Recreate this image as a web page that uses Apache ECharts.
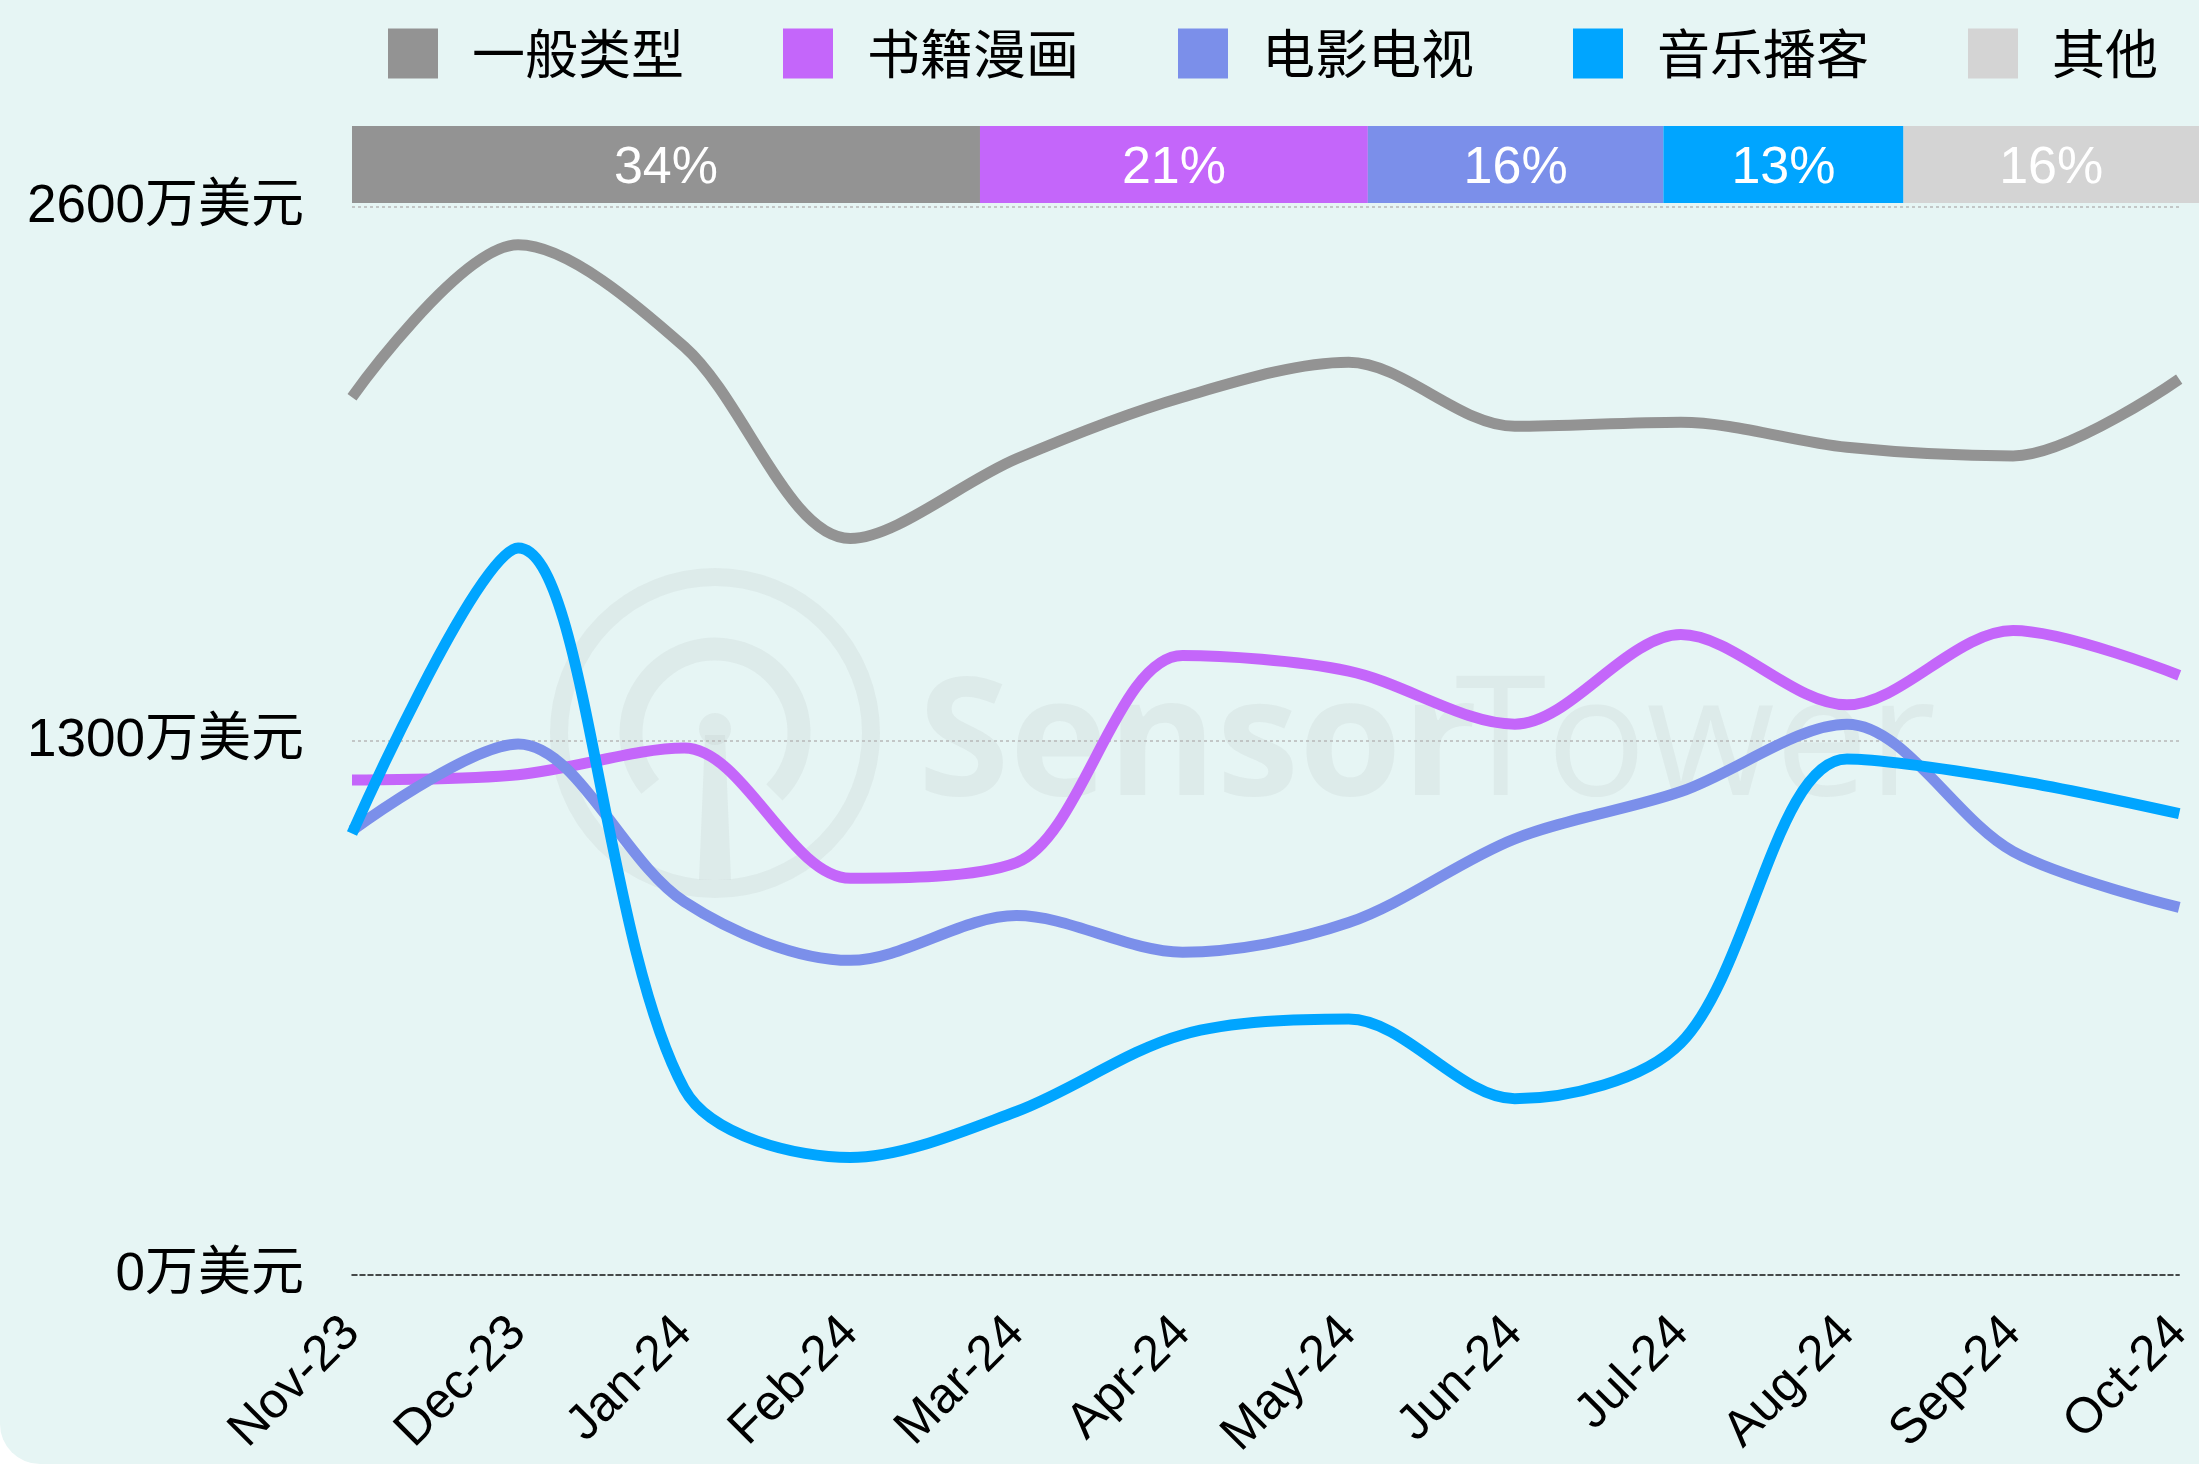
<!DOCTYPE html>
<html>
<head>
<meta charset="utf-8">
<script src="https://cdn.jsdelivr.net/npm/echarts@6/dist/echarts.min.js"></script>
<style>
    html, body {
        margin: 0;
        padding: 0;
        background: #ffffff;
    }
    #chart {
        width: 2199px;
        height: 1464px;
        background: #e6f5f4;
        border-bottom-left-radius: 40px;
        overflow: hidden;
    }
</style>
</head>
<body>
<div id="chart"></div>
<script>
// months on the x axis
const months = ["Nov-23", "Dec-23", "Jan-24", "Feb-24", "Mar-24", "Apr-24",
    "May-24", "Jun-24", "Jul-24", "Aug-24", "Sep-24", "Oct-24"];

// revenue, in 万美元
const general = [2137, 2508, 2260, 1793, 1987, 2137, 2222, 2066, 2076, 2015, 1994, 2181];
const books = [1205, 1218, 1283, 966, 1004, 1508, 1470, 1341, 1559, 1388, 1569, 1460];
const video = [1082, 1293, 909, 766, 875, 786, 858, 1062, 1177, 1341, 1031, 895];
const music = [1075, 1770, 453, 286, 398, 585, 623, 429, 565, 1256, 1205, 1123];

// share bar across the top
const shareNames = ["一般类型", "书籍漫画", "电影电视", "音乐播客", "其他"];
const shareValues = [34, 21, 16, 13, 16];
const shareColors = ["#939393", "#c466fa", "#7b8fea", "#00a5ff", "#d4d4d4"];

const yTicks = [0, 1300, 2600];

const fontLatin = "'Liberation Sans', 'Noto Sans CJK SC', sans-serif";
const wmFill = "rgba(110,110,110,0.07)";

const chart = echarts.init(document.getElementById("chart"));

const lineSeries = [general, books, video, music].map((data, i) => ({
    name: shareNames[i],
    type: "line",
    xAxisIndex: 0,
    yAxisIndex: 0,
    data: data,
    smooth: 0.32,
    symbol: "none",
    lineStyle: { width: 11, color: shareColors[i] },
    itemStyle: { color: shareColors[i] },
    z: 3,
}));

const barSeries = shareNames.map((name, i) => ({
    name: name,
    type: "bar",
    stack: "share",
    xAxisIndex: 1,
    yAxisIndex: 1,
    barWidth: "100%",
    data: [shareValues[i]],
    itemStyle: { color: shareColors[i] },
    label: {
        show: true,
        position: "inside",
        formatter: "{c}%",
        color: "#ffffff",
        fontSize: 52,
        fontFamily: fontLatin,
        offset: [0, 4],
    },
}));

const option = {
    animation: false,
    legend: {
        data: shareNames,
        left: 383,
        top: 22,
        icon: "rect",
        itemWidth: 50,
        itemHeight: 50,
        itemGap: 99,
        selectedMode: false,
        textStyle: {
            fontSize: 53,
            color: "#000000",
            fontFamily: "'Noto Sans CJK SC', sans-serif",
            padding: [0, 0, 0, 29],
        },
    },
    grid: [
        { left: 352, right: 7, top: 207, bottom: 189 },
        { left: 352, right: 0, top: 126, height: 77 },
    ],
    xAxis: [
        {
            type: "category",
            gridIndex: 0,
            data: months,
            boundaryGap: false,
            axisTick: { show: false },
            axisLine: {
                lineStyle: { color: "#111111", width: 1.5, type: [5, 3] },
            },
            axisLabel: {
                rotate: 45,
                margin: 50,
                fontSize: 50,
                color: "#000000",
                fontFamily: fontLatin,
            },
        },
        {
            type: "value",
            gridIndex: 1,
            min: 0,
            max: 100,
            show: false,
        },
    ],
    yAxis: [
        {
            type: "value",
            gridIndex: 0,
            min: yTicks[0],
            max: yTicks[2],
            interval: yTicks[1],
            axisLine: { show: false },
            axisTick: { show: false },
            axisLabel: {
                formatter: (v) => v + "万美元",
                margin: 48,
                fontSize: 53,
                padding: [8, 0, 0, 0],
                color: "#000000",
                fontFamily: fontLatin,
            },
            splitLine: {
                showMinLine: false,
                lineStyle: { color: "#b8b8b8", width: 1.5, type: [3, 3] },
            },
        },
        {
            type: "category",
            gridIndex: 1,
            data: ["share"],
            show: false,
        },
    ],
    graphic: [
        {
            type: "group",
            silent: true,
            z: 100,
            children: [
                {
                    type: "circle",
                    shape: { cx: 715, cy: 733, r: 156 },
                    style: { fill: "none", stroke: wmFill, lineWidth: 18 },
                },
                {
                    type: "arc",
                    shape: { cx: 715, cy: 733, r: 84, startAngle: Math.PI * 0.78, endAngle: Math.PI * 2.25 },
                    style: { fill: "none", stroke: wmFill, lineWidth: 23 },
                },
                {
                    type: "circle",
                    shape: { cx: 715, cy: 729, r: 16 },
                    style: { fill: wmFill },
                },
                {
                    type: "polygon",
                    shape: { points: [[705, 735], [725, 735], [731, 880], [699, 880]] },
                    style: { fill: wmFill },
                },
                {
                    type: "text",
                    x: 918,
                    y: 748,
                    style: {
                        text: "Sensor",
                        font: "bold 166px 'Open Sans', sans-serif",
                        fill: wmFill,
                        textVerticalAlign: "middle",
                    },
                },
                {
                    type: "text",
                    x: 1455,
                    y: 748,
                    style: {
                        text: "Tower",
                        font: "166px 'Open Sans', sans-serif",
                        fill: wmFill,
                        textVerticalAlign: "middle",
                    },
                },
            ],
        },
    ],
    series: lineSeries.concat(barSeries),
};

chart.setOption(option);
</script>
</body>
</html>
